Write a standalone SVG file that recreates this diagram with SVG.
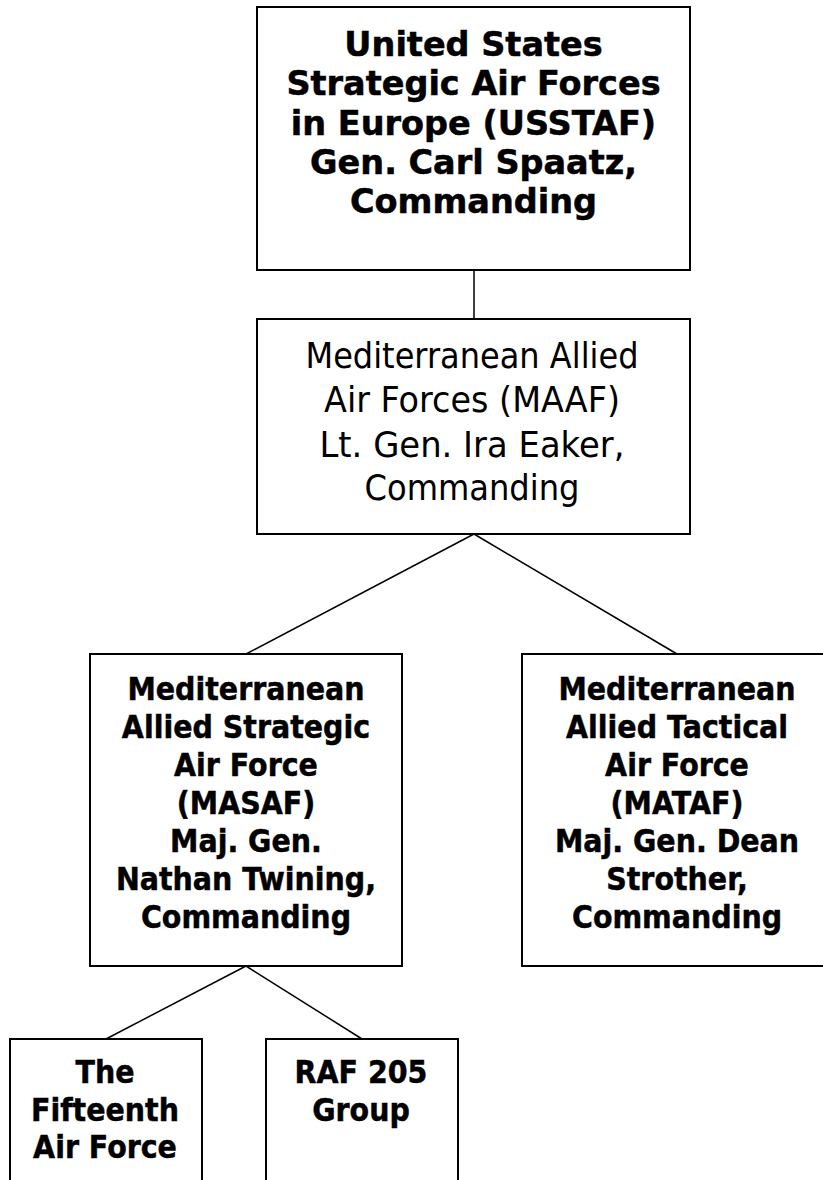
<svg xmlns="http://www.w3.org/2000/svg" width="823" height="1180" viewBox="0 0 823 1180">
<style>
.box{fill:#fff;stroke:#000;stroke-width:2}
.b{font-family:"DejaVu Sans","Liberation Sans",sans-serif;font-weight:bold;text-anchor:middle;fill:#000;stroke:#000;stroke-width:0.5}
.r{font-family:"DejaVu Sans","Liberation Sans",sans-serif;text-anchor:middle;fill:#000;font-size:36px}
.t{font-size:33.5px}
.m{font-size:32px}
.c{stroke:#000;stroke-width:1.5;fill:none}
</style>
<rect width="823" height="1180" fill="#fff"/>
<g id="connectors">
<line class="c" x1="474" y1="270" x2="474" y2="319"/>
<line class="c" x1="474" y1="534" x2="246" y2="654"/>
<line class="c" x1="474" y1="534" x2="677" y2="654"/>
<line class="c" x1="246" y1="966" x2="106" y2="1039"/>
<line class="c" x1="246" y1="966" x2="362" y2="1039"/>
</g>
<g id="usstaf">
<rect class="box" x="257" y="7" width="433" height="263"/>
<text class="b t" x="473.5" y="56">United States</text>
<text class="b t" x="473.5" y="95">Strategic Air Forces</text>
<text class="b t" x="473.5" y="135">in Europe (USSTAF)</text>
<text class="b t" x="473.5" y="174">Gen. Carl Spaatz,</text>
<text class="b t" x="473.5" y="213">Commanding</text>
</g>
<g id="maaf">
<rect class="box" x="257" y="319" width="433" height="215"/>
<text class="r" x="472" y="368" textLength="333" lengthAdjust="spacingAndGlyphs">Mediterranean Allied</text>
<text class="r" x="472" y="412" textLength="296" lengthAdjust="spacingAndGlyphs">Air Forces (MAAF)</text>
<text class="r" x="472" y="457" textLength="305" lengthAdjust="spacingAndGlyphs">Lt. Gen. Ira Eaker,</text>
<text class="r" x="472" y="500" textLength="215" lengthAdjust="spacingAndGlyphs">Commanding</text>
</g>
<g id="masaf">
<rect class="box" x="90" y="654" width="312" height="312"/>
<g transform="scale(0.89,1)">
<text class="b m" x="276.4" y="700">Mediterranean</text>
<text class="b m" x="276.4" y="738">Allied Strategic</text>
<text class="b m" x="276.4" y="776">Air Force</text>
<text class="b m" x="276.4" y="814">(MASAF)</text>
<text class="b m" x="276.4" y="852">Maj. Gen.</text>
<text class="b m" x="276.4" y="890">Nathan Twining,</text>
<text class="b m" x="276.4" y="928">Commanding</text>
</g>
</g>
<g id="mataf">
<rect class="box" x="522" y="654" width="310" height="312"/>
<g transform="scale(0.89,1)">
<text class="b m" x="760.7" y="700">Mediterranean</text>
<text class="b m" x="760.7" y="738">Allied Tactical</text>
<text class="b m" x="760.7" y="776">Air Force</text>
<text class="b m" x="760.7" y="814">(MATAF)</text>
<text class="b m" x="760.7" y="852">Maj. Gen. Dean</text>
<text class="b m" x="760.7" y="890">Strother,</text>
<text class="b m" x="760.7" y="928">Commanding</text>
</g>
</g>
<g id="fifteenth">
<rect class="box" x="10" y="1039" width="192" height="160"/>
<g transform="scale(0.89,1)">
<text class="b m" x="118" y="1083">The</text>
<text class="b m" x="118" y="1121">Fifteenth</text>
<text class="b m" x="118" y="1158">Air Force</text>
</g>
</g>
<g id="raf205">
<rect class="box" x="266" y="1039" width="192" height="160"/>
<g transform="scale(0.89,1)">
<text class="b m" x="405.6" y="1083">RAF 205</text>
<text class="b m" x="405.6" y="1121">Group</text>
</g>
</g>
</svg>
